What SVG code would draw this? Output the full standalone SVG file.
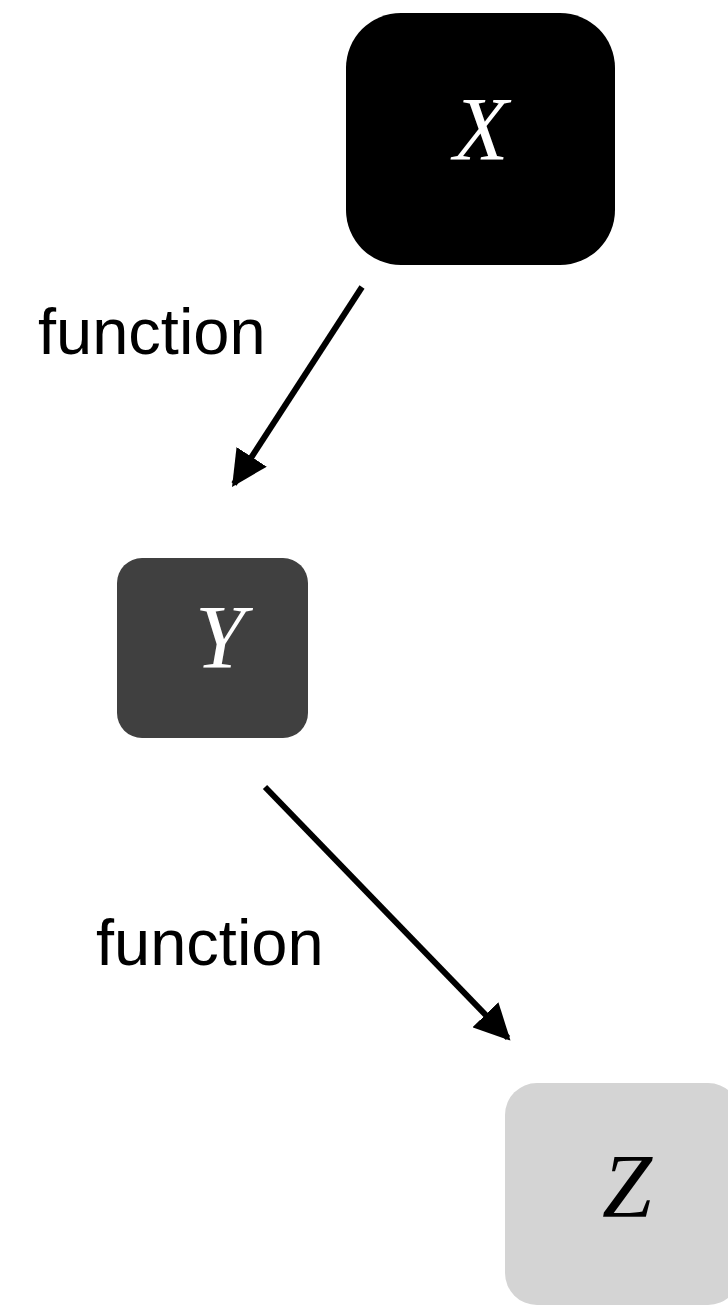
<svg xmlns="http://www.w3.org/2000/svg" width="728" height="1306" viewBox="0 0 728 1306">
<style>
.var{font-family:"Liberation Serif","Times New Roman",serif;font-style:italic;font-size:90px;text-anchor:middle}
.lbl{font-family:"Liberation Sans",Arial,sans-serif;font-size:65px;fill:#000}
.edge{stroke:#000;stroke-width:6;fill:none}
</style>
<defs>
<marker id="ah" viewBox="0 0 10 10" refX="9" refY="5" markerWidth="6" markerHeight="6" markerUnits="strokeWidth" orient="auto">
<path d="M0,0 L10,5 L0,10 z" fill="#000"/>
</marker>
</defs>
<rect width="728" height="1306" fill="#fff"/>
<g id="node-x">
<rect x="346" y="13" width="269" height="252" rx="55" fill="#000"/>
<text class="var" x="481" y="160" fill="#fff">X</text>
</g>
<g id="node-y">
<rect x="117" y="558" width="191" height="180" rx="25" fill="#404040"/>
<text class="var" x="220" y="668" fill="#fff">Y</text>
</g>
<g id="node-z">
<rect x="505" y="1083" width="235" height="222" rx="32" fill="#d4d4d4"/>
<text class="var" x="627" y="1217" fill="#000">Z</text>
</g>
<g id="connectors">
<line class="edge" x1="362" y1="287" x2="234" y2="484" marker-end="url(#ah)"/>
<line class="edge" x1="265" y1="787" x2="508" y2="1038" marker-end="url(#ah)"/>
</g>
<g id="labels">
<text class="lbl" x="38" y="354">function</text>
<text class="lbl" x="96" y="965">function</text>
</g>
</svg>
